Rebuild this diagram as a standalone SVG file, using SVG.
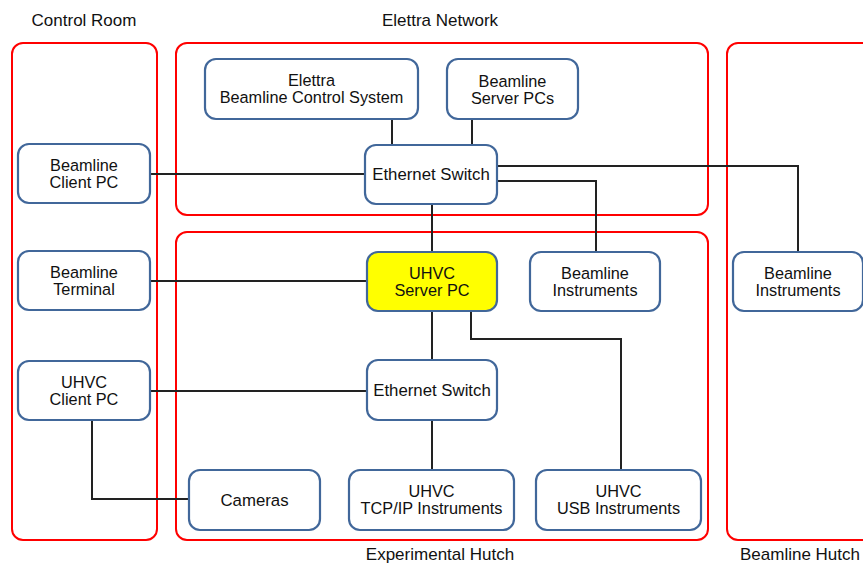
<svg xmlns="http://www.w3.org/2000/svg" width="863" height="564" viewBox="0 0 863 564">
<style>
.zone{fill:none;stroke:#ff0000;stroke-width:2}
.node{fill:#ffffff;stroke:#41679a;stroke-width:2.2}
.hl{fill:#ffff00}
.t{font-family:"Liberation Sans",Arial,sans-serif;font-size:16.3px;fill:#111;text-anchor:middle}
.t1{font-family:"Liberation Sans",Arial,sans-serif;font-size:16.8px;fill:#111;text-anchor:middle}
.ta{font-family:"Liberation Sans",Arial,sans-serif;font-size:16.3px;fill:#111;text-anchor:middle}
.lbl{font-family:"Liberation Sans",Arial,sans-serif;font-size:17px;fill:#111;text-anchor:middle}
.c{fill:none;stroke:#222;stroke-width:2}
</style>
<rect width="863" height="564" fill="#ffffff"/>
<g id="zones">
<rect class="zone" x="12" y="43" width="145" height="497" rx="11"/>
<rect class="zone" x="176" y="43" width="532" height="172" rx="11"/>
<rect class="zone" x="176" y="232" width="532" height="308" rx="11"/>
<rect class="zone" x="727" y="43" width="150" height="497" rx="11"/>
<text class="lbl" x="84" y="26">Control Room</text>
<text class="lbl" x="440" y="26">Elettra Network</text>
<text class="lbl" x="440" y="559.5">Experimental Hutch</text>
<text class="lbl" x="800" y="559.5">Beamline Hutch</text>
</g>
<g id="connectors">
<path class="c" d="M392 119V145"/>
<path class="c" d="M472 119V145"/>
<path class="c" d="M150 174H365"/>
<path class="c" d="M497 166H798V252"/>
<path class="c" d="M497 181H596V252"/>
<path class="c" d="M432 204V252"/>
<path class="c" d="M150 281H367"/>
<path class="c" d="M432 311V360"/>
<path class="c" d="M471 311V339H621V470"/>
<path class="c" d="M150 391H367"/>
<path class="c" d="M432 420V470"/>
<path class="c" d="M92 420V499H189"/>
</g>
<g id="elettra-bcs"><rect class="node" x="205" y="59" width="213" height="60" rx="11"/><text class="t" x="311.5" y="86">Elettra</text><text class="t" x="311.5" y="103">Beamline Control System</text></g>
<g id="beamline-server-pcs"><rect class="node" x="447" y="59" width="131" height="60" rx="11"/><text class="t" x="512.5" y="87">Beamline</text><text class="t" x="512.5" y="104">Server PCs</text></g>
<g id="ethernet-switch-1"><rect class="node" x="365" y="145" width="132" height="59" rx="11"/><text class="t1" x="431" y="180">Ethernet Switch</text></g>
<g id="beamline-client-pc"><rect class="node" x="18" y="144" width="132" height="59" rx="11"/><text class="t" x="84" y="171">Beamline</text><text class="t" x="84" y="188">Client PC</text></g>
<g id="beamline-terminal"><rect class="node" x="18" y="251" width="132" height="59" rx="11"/><text class="t" x="84" y="278">Beamline</text><text class="t" x="84" y="295">Terminal</text></g>
<g id="uhvc-server-pc"><rect class="node hl" x="367" y="252" width="130" height="59" rx="11"/><text class="ta" x="432" y="279">UHVC</text><text class="ta" x="432" y="296">Server PC</text></g>
<g id="beamline-instruments-exp"><rect class="node" x="530" y="252" width="130" height="59" rx="11"/><text class="t" x="595" y="279">Beamline</text><text class="t" x="595" y="296">Instruments</text></g>
<g id="beamline-instruments-hutch"><rect class="node" x="733" y="252" width="130" height="59" rx="11"/><text class="t" x="798" y="279">Beamline</text><text class="t" x="798" y="296">Instruments</text></g>
<g id="ethernet-switch-2"><rect class="node" x="367" y="360" width="130" height="60" rx="11"/><text class="t1" x="432" y="396">Ethernet Switch</text></g>
<g id="uhvc-client-pc"><rect class="node" x="18" y="361" width="132" height="59" rx="11"/><text class="t" x="84" y="388">UHVC</text><text class="t" x="84" y="405">Client PC</text></g>
<g id="cameras"><rect class="node" x="189" y="470" width="131" height="60" rx="11"/><text class="t1" x="254.5" y="506">Cameras</text></g>
<g id="uhvc-tcpip"><rect class="node" x="349" y="470" width="165" height="60" rx="11"/><text class="t" x="431.5" y="497">UHVC</text><text class="t" x="431.5" y="514">TCP/IP Instruments</text></g>
<g id="uhvc-usb"><rect class="node" x="536" y="470" width="165" height="60" rx="11"/><text class="t" x="618.5" y="497">UHVC</text><text class="t" x="618.5" y="514">USB Instruments</text></g>
</svg>
